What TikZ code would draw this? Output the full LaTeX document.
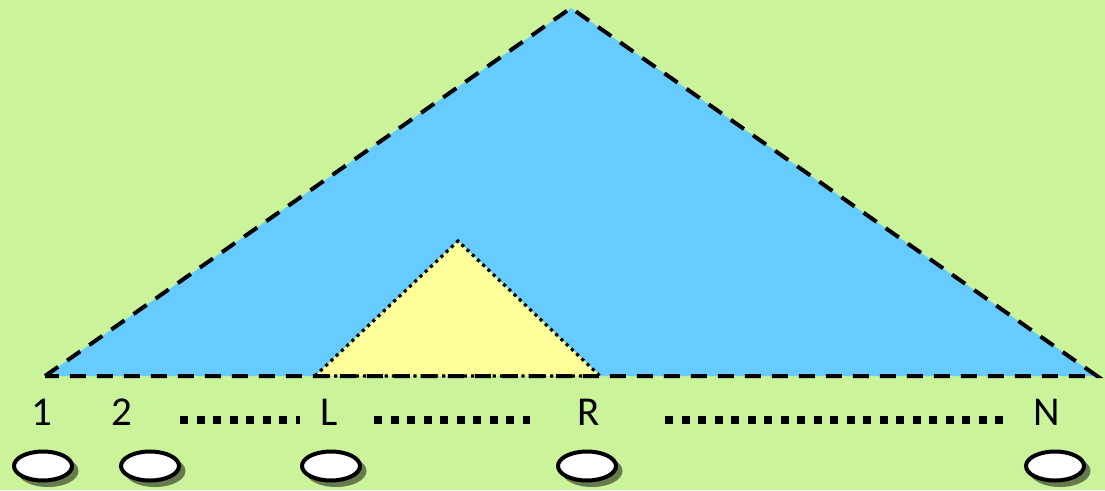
\documentclass[tikz,border=0pt]{standalone}
\usepackage{fontspec}
\setmainfont{Carlito}
\usetikzlibrary{shapes.geometric}
\definecolor{bggreen}{HTML}{CBF39A}
\definecolor{skyblue}{HTML}{66CCFF}
\definecolor{paleyellow}{HTML}{FFFF99}
\definecolor{shadowgray}{HTML}{667A4E}
\tikzset{
  bigtri/.style={draw=black, line width=4pt, dash pattern=on 16pt off 11pt},
  smalltri/.style={draw=black, line width=3.2pt, dash pattern=on 3.2pt off 4pt},
  lab/.style={font=\fontsize{41}{41}\selectfont, inner sep=0pt, anchor=base},
  dotrow/.style={line width=8pt, dash pattern=on 8pt off 8.5pt},
  leaf/.style={ellipse, draw=black, fill=white, line width=4pt, minimum width=58pt, minimum height=29pt, inner sep=0pt},
  leafshadow/.style={ellipse, fill=shadowgray, minimum width=61pt, minimum height=32pt, inner sep=0pt}
}
\begin{document}
\begin{tikzpicture}[x=1pt,y=-1pt]
\fill[bggreen] (0,0) rectangle (1105,490);
\useasboundingbox (0,0) rectangle (1105,490);
% big triangle
\coordinate (A) at (45,376);
\coordinate (T) at (571,8);
\coordinate (B) at (1097,376);
\fill[skyblue] (A) -- (T) -- (B) -- cycle;
% small triangle
\coordinate (L0) at (315,376);
\coordinate (T2) at (458,241);
\coordinate (R0) at (600,376);
\fill[paleyellow] (L0) -- (T2) -- (R0) -- cycle;
\draw[smalltri] (L0) -- (T2) -- (R0) -- cycle;
\draw[bigtri] (A) -- (T) -- (B) -- cycle;
% labels
\node[lab] (n1) at (42,425) {1};
\node[lab] (n2) at (122,425) {2};
\node[lab] (nL) at (329,425) {L};
\node[lab] (nR) at (589,425) {R};
\node[lab] (nN) at (1047,425) {N};
% dot rows
\coordinate (d1a) at (180,420); \coordinate (d1b) at (300,420);
\coordinate (d2a) at (374,420); \coordinate (d2b) at (530,420);
\coordinate (d3a) at (665,420); \coordinate (d3b) at (1010,420);
\draw[dotrow] (d1a) -- (d1b);
\draw[dotrow] (d2a) -- (d2b);
\draw[dotrow] (d3a) -- (d3b);
% leaves
\foreach \x/\n in {43/e1,150/e2,331/eL,587/eR,1055/eN}{
  \node[leafshadow] at (\x+5,471) {};
  \node[leaf] (\n) at (\x,466) {};
}
\end{tikzpicture}
\end{document}
